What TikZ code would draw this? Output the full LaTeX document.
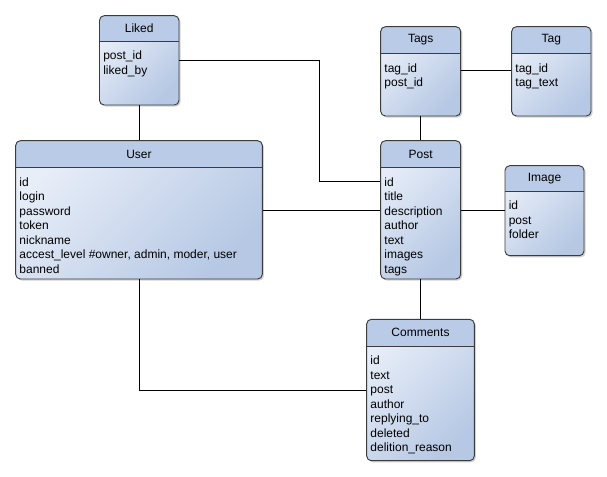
\documentclass[tikz,border=0pt]{standalone}
\usepackage{fontspec}
\setmainfont{Liberation Sans}
\usetikzlibrary{fit,shadows,calc}
\definecolor{hdr}{RGB}{185,203,230}
\definecolor{bodyL}{RGB}{232,238,248}
\definecolor{bodyD}{RGB}{182,200,228}
\definecolor{edge}{RGB}{60,60,60}
\tikzset{
  entity/.style={inner sep=0pt, rounded corners=3.5pt, top color=bodyL, bottom color=bodyD, shading angle=45,
    drop shadow={shadow xshift=1.2pt, shadow yshift=-1.2pt, opacity=0.35}},
  title/.style={font=\fontsize{9}{11}\selectfont, inner sep=0pt},
  fields/.style={font=\fontsize{9}{10.9}\selectfont, align=left, anchor=north west, inner sep=0pt},
  conn/.style={line width=0.65pt, black}
}
% #1 name, #2 x1, #3 y1, #4 x2, #5 y2, #6 header y, #7 title, #8 fields
\newcommand\entitybox[8]{%
  \node[entity, fit={(#2,#3) (#4,#5)}] (#1) {};
  \begin{scope}
    \clip[rounded corners=3.5pt] (#2,#3) rectangle (#4,#5);
    \fill[hdr] (#2,#3) rectangle (#4,#6);
  \end{scope}
  \draw[edge, line width=0.7pt] (#2,#6) -- (#4,#6);
  \draw[edge, line width=0.7pt, rounded corners=3.5pt] (#2,#3) rectangle (#4,#5);
  \node[title] (#1-t) at ($(#2,#3)!0.5!(#4,#6)$) {#7};
  \node[fields] (#1-f) at ([xshift=3.5*0.75pt]#2,#6+9.8) {#8};
}
\begin{document}
\begin{tikzpicture}[x=0.75pt,y=-0.75pt]
\useasboundingbox[fill=white] (0,0) rectangle (607,476);
\entitybox{liked}{99.5}{15.7}{179}{105}{41}{Liked}{post\_id\\liked\_by}
\entitybox{tags}{380.7}{26.7}{460.7}{116}{53.3}{Tags}{tag\_id\\post\_id}
\entitybox{tag}{511.7}{26.7}{591}{116}{53.3}{Tag}{tag\_id\\tag\_text}
\entitybox{user}{15.7}{140.7}{262.3}{279}{167.3}{User}{id\\login\\password\\token\\nickname\\accest\_level \#owner, admin, moder, user\\banned}
\entitybox{post}{380.7}{140.7}{460.7}{279}{167.3}{Post}{id\\title\\description\\author\\text\\images\\tags}
\entitybox{image}{505}{165.7}{584}{255.7}{191}{Image}{id\\post\\folder}
\entitybox{comments}{366.7}{319.3}{474.3}{460.7}{346}{Comments}{id\\text\\post\\author\\replying\_to\\deleted\\delition\_reason}
% connectors
\draw[conn] (liked.east |- 0,60) -| (319,181) -- (post.west |- 0,181);
\draw[conn] (liked.south) -- (liked.south |- user.north);
\draw[conn] (user.east |- 0,210) -- (post.west |- 0,210);
\draw[conn] (user.south) |- (comments.west |- 0,390);
\draw[conn] (tags.east |- 0,70) -- (tag.west |- 0,70);
\draw[conn] (tags.south) -- (tags.south |- post.north);
\draw[conn] (post.east |- 0,210) -- (image.west |- 0,210);
\draw[conn] (post.south) -- (post.south |- comments.north);
\end{tikzpicture}
\end{document}
